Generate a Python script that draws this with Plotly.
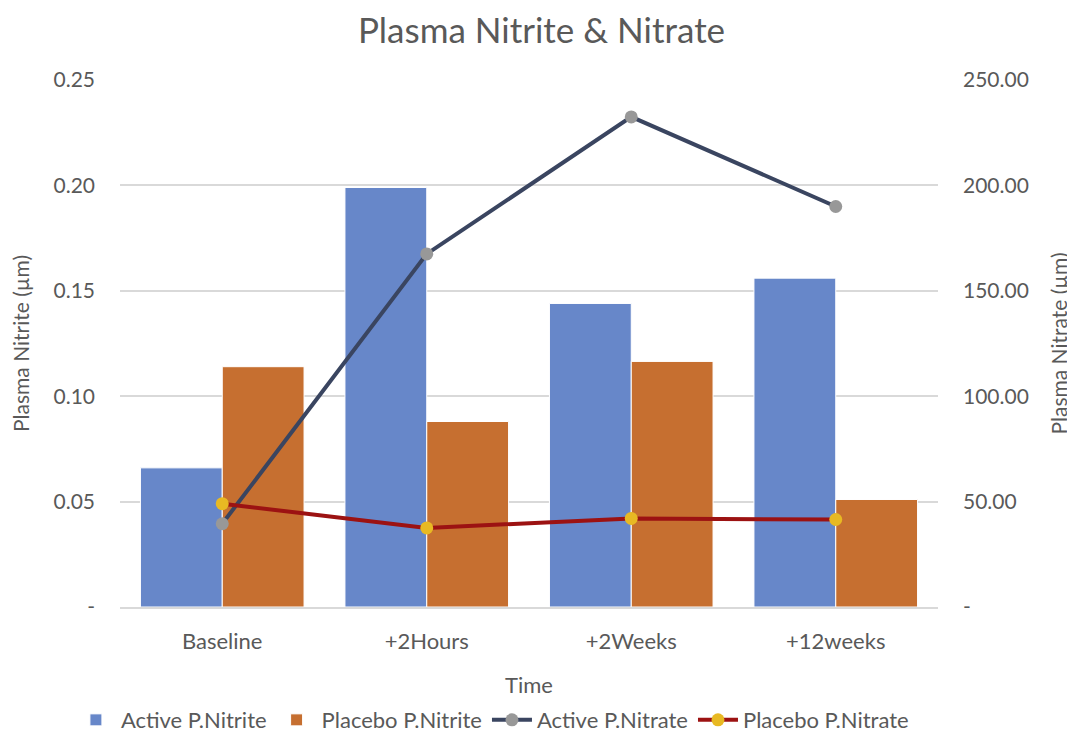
import plotly.graph_objects as go

timepoints = ["Baseline", "+2Hours", "+2Weeks", "+12weeks"]
active_nitrite = [0.066, 0.199, 0.144, 0.156]
placebo_nitrite = [0.114, 0.088, 0.1165, 0.051]
active_nitrate = [39.5, 167.5, 232.5, 190.0]
placebo_nitrate = [49.0, 37.5, 42.0, 41.5]

left_ticks = [0, 0.05, 0.10, 0.15, 0.20, 0.25]
left_labels = ["-", "0.05", "0.10", "0.15", "0.20", "0.25"]
right_ticks = [0, 50, 100, 150, 200, 250]
right_labels = ["-", "50.00", "100.00", "150.00", "200.00", "250.00"]

text_col = "#595959"
font_family = "Lato, 'Open Sans', sans-serif"

fig = go.Figure()
fig.add_trace(go.Bar(x=timepoints, y=active_nitrite, name="Active P.Nitrite",
                     marker=dict(color="#6787C9", line=dict(color="white", width=1))))
fig.add_trace(go.Bar(x=timepoints, y=placebo_nitrite, name="Placebo P.Nitrite",
                     marker=dict(color="#C66F30", line=dict(color="white", width=1))))
fig.add_trace(go.Scatter(x=timepoints, y=active_nitrate, name="Active P.Nitrate", yaxis="y2",
                         mode="lines+markers",
                         line=dict(color="#3A4560", width=4),
                         marker=dict(color="#989898", size=13)))
fig.add_trace(go.Scatter(x=timepoints, y=placebo_nitrate, name="Placebo P.Nitrate", yaxis="y2",
                         mode="lines+markers",
                         line=dict(color="#9C1212", width=4),
                         marker=dict(color="#E8B923", size=13)))

# the page body adds an 8px margin, so the figure is 8px smaller and shifted
fig.update_layout(
    width=1067, height=744,
    paper_bgcolor="white", plot_bgcolor="white",
    font=dict(family=font_family, color=text_col, size=21),
    title=dict(text="Plasma Nitrite & Nitrate", x=0.5, xanchor="center",
               y=0.97, yanchor="middle", font=dict(size=35, color=text_col)),
    barmode="group", bargap=0.2, bargroupgap=0,
    margin=dict(l=112, r=137, t=72, b=144),
    xaxis=dict(title=dict(text="Time", font=dict(size=22), standoff=24),
               showline=True, linecolor="#D9D9D9", linewidth=1.5, ticks="",
               ticklabelstandoff=14, tickfont=dict(size=22), automargin=False),
    yaxis=dict(title=dict(text="Plasma Nitrite (µm)", font=dict(size=21), standoff=18),
               range=[0, 0.25], tickvals=left_ticks, ticktext=left_labels,
               gridcolor="#D9D9D9", gridwidth=1.5, zeroline=False,
               ticklabelstandoff=24, automargin=False),
    yaxis2=dict(title=dict(text="Plasma Nitrate (µm)", font=dict(size=21), standoff=24),
                range=[0, 250], tickvals=right_ticks, ticktext=right_labels,
                overlaying="y", side="right", showgrid=False, zeroline=False,
                ticklabelstandoff=24, automargin=False),
    # anchored left of the plot area so the legend may use more than the plot width;
    # kept high enough that it doesn't push the bottom margin
    legend=dict(orientation="h", x=-0.06, xanchor="left",
                y=-0.252, yanchor="bottom",
                font=dict(size=22), traceorder="normal", itemwidth=40),
)

fig.write_html("out.html")
